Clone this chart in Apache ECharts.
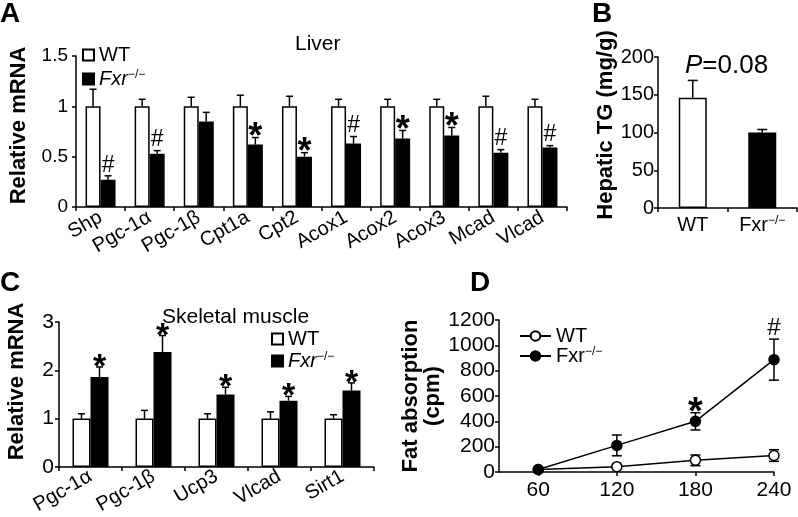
<!DOCTYPE html>
<html><head><meta charset="utf-8">
<script src="https://cdn.jsdelivr.net/npm/echarts@6/dist/echarts.min.js"></script>
<style>html,body{margin:0;padding:0;background:#fff}#c{width:798px;height:517px}</style>
</head><body><div id="c"></div>
<script>
// ---------- data ----------
const liverGenes = ['Shp','Pgc-1α','Pgc-1β','Cpt1a','Cpt2','Acox1','Acox2','Acox3','Mcad','Vlcad'];
const liverWT = [1,1,1,1,1,1,1,1,1,1];
const liverWTErr = [0.17,0.07,0.09,0.11,0.10,0.07,0.07,0.07,0.10,0.07];
const liverFxr = [0.27,0.53,0.85,0.62,0.50,0.63,0.68,0.71,0.54,0.59];
const liverFxrErr = [0.04,0.03,0.09,0.07,0.04,0.07,0.08,0.08,0.03,0.02];
const liverMarks = ['#','#','','*','*','#','*','*','#','#'];

const tgGroups = ['WT','Fxr'];
const tgValues = [146, 100];
const tgErr = [23, 4];

const muscleGenes = ['Pgc-1α','Pgc-1β','Ucp3','Vlcad','Sirt1'];
const muscleWT = [1,1,1,1,1];
const muscleWTErr = [0.10,0.17,0.10,0.14,0.08];
const muscleFxr = [1.86,2.38,1.50,1.37,1.58];
const muscleFxrErr = [0.21,0.34,0.15,0.09,0.16];
const muscleMarks = ['*','*','*','*','*'];

const timeMin = [60,120,180,240];
const fatWT = [20,42,92,130];
const fatWTErr = [8,12,42,46];
const fatFxr = [20,210,400,887];
const fatFxrErr = [8,82,68,162];
const fatMarks = ['','','*','#'];

// ---------- styling helpers ----------
const FONT = 'Liberation Sans, Arial, sans-serif';
const BLACK = '#000';
const axisLine = {show:true, lineStyle:{color:BLACK, width:1.5}};
const axisTick = {show:true, length:4, lineStyle:{color:BLACK, width:1.5}};
const supRich = {
  i:{fontStyle:'italic', fontSize:20, fontFamily:FONT, color:BLACK},
  n:{fontSize:20, fontFamily:FONT, color:BLACK},
  s:{fontSize:12, fontFamily:FONT, color:BLACK, verticalAlign:'top', lineHeight:12}
};
const whiteBar = {color:'#fff', borderColor:BLACK, borderWidth:1.5};
const blackBar = {color:BLACK, borderColor:BLACK, borderWidth:1.5};

function makeErr(offset, capHalf, both, marks, starSize, hashSize) {
  return function (params, api) {
    const x = api.value(0), v = api.value(1), e = api.value(2);
    const c = api.coord([x, v]);
    const t = api.coord([x, v + e]);
    const b = both ? api.coord([x, v - e]) : c;
    const px = c[0] + offset;
    const st = {stroke:BLACK, lineWidth:1.5};
    const ch = [
      {type:'line', shape:{x1:px,y1:b[1],x2:px,y2:t[1]}, style:st},
      {type:'line', shape:{x1:px-capHalf,y1:t[1],x2:px+capHalf,y2:t[1]}, style:st}
    ];
    if (both) ch.push({type:'line', shape:{x1:px-capHalf,y1:b[1],x2:px+capHalf,y2:b[1]}, style:st});
    const m = marks ? marks[params.dataIndex] : '';
    if (m) {
      const star = m === '*';
      ch.push({type:'text', x:px, y:t[1] + (star ? starSize*0.52 : 1),
        style:{text:m, align:'center', verticalAlign:'bottom',
          fontSize: star ? starSize : hashSize, fontWeight: star ? 'bold' : 'normal',
          fontFamily:FONT, fill:BLACK}});
    }
    return {type:'group', children:ch};
  };
}
function errData(xs, vals, errs) { return vals.map((v,i)=>[xs[i], v, errs[i]]); }
const idx = n => Array.from({length:n}, (_,i)=>i);

const chart = echarts.init(document.getElementById('c'), null, {renderer:'canvas'});
const legendFmt = name => name.endsWith('WT') ? 'WT' : (name.startsWith('D') ? '{n|Fxr}{s|−/−}' : '{i|Fxr}{s|−/−}');
const plain = v => String(v);

const option = {
  animation:false,
  textStyle:{fontFamily:FONT, color:BLACK},
  title:[
    {text:'A', left:0, top:0, padding:0, textStyle:{fontSize:28, fontWeight:'bold', color:BLACK, fontFamily:FONT}},
    {text:'B', left:592, top:0, padding:0, textStyle:{fontSize:28, fontWeight:'bold', color:BLACK, fontFamily:FONT}},
    {text:'C', left:0, top:269, padding:0, textStyle:{fontSize:28, fontWeight:'bold', color:BLACK, fontFamily:FONT}},
    {text:'D', left:470, top:269, padding:0, textStyle:{fontSize:28, fontWeight:'bold', color:BLACK, fontFamily:FONT}},
    {text:'Liver', left:295, top:34, padding:0, textStyle:{fontSize:21, fontWeight:'normal', color:BLACK, fontFamily:FONT}},
    {text:'Skeletal muscle', left:162, top:307, padding:0, textStyle:{fontSize:21, fontWeight:'normal', color:BLACK, fontFamily:FONT}},
    {text:'{i|P}=0.08', left:685, top:53, padding:0, textStyle:{fontSize:26, fontWeight:'normal', color:BLACK, fontFamily:FONT,
      rich:{i:{fontStyle:'italic', fontSize:26, fontFamily:FONT, color:BLACK}}}}
  ],
  legend:[
    {data:['A_WT','A_Fxr'], left:77, top:40, orient:'vertical', icon:'rect', itemWidth:11, itemHeight:11, itemGap:4,
     selectedMode:false, formatter:legendFmt, textStyle:{fontSize:20, color:BLACK, fontFamily:FONT, rich:supRich}},
    {data:['C_WT','C_Fxr'], left:266, top:324, orient:'vertical', icon:'rect', itemWidth:11, itemHeight:11, itemGap:2,
     selectedMode:false, formatter:legendFmt, textStyle:{fontSize:20, color:BLACK, fontFamily:FONT, rich:supRich}},
    {data:['D_WT','D_Fxr'], left:514, top:321, orient:'vertical', itemWidth:31, itemHeight:12, itemGap:0,
     selectedMode:false, formatter:legendFmt, textStyle:{fontSize:20, color:BLACK, fontFamily:FONT, rich:supRich}}
  ],
  grid:[
    {left:62, top:56, width:505, height:151},
    {left:658, top:57, width:139, height:151},
    {left:59, top:322, width:315, height:151},
    {left:499, top:320, width:275, height:152}
  ],
  xAxis:[
    {gridIndex:0, type:'category', data:liverGenes, axisLine, axisTick,
     axisLabel:{interval:0, rotate:30, fontSize:20, margin:9, color:BLACK, fontFamily:FONT}},
    {gridIndex:1, type:'category', data:tgGroups, axisLine, axisTick,
     axisLabel:{interval:0, fontSize:20, margin:7, color:BLACK, fontFamily:FONT,
       formatter: v => v === 'WT' ? 'WT' : '{n|Fxr}{s|−/−}', rich:supRich}},
    {gridIndex:2, type:'category', data:muscleGenes, axisLine, axisTick,
     axisLabel:{interval:0, rotate:30, fontSize:20, margin:8, color:BLACK, fontFamily:FONT}},
    {gridIndex:3, type:'value', min:30, max:240, axisLine, splitLine:{show:false},
     axisTick:Object.assign({customValues:timeMin}, axisTick),
     axisLabel:{customValues:timeMin, fontSize:21, margin:8, color:BLACK, fontFamily:FONT, formatter:plain}}
  ],
  yAxis:[
    {gridIndex:0, type:'value', min:0, max:1.5, interval:0.5, axisLine, axisTick, splitLine:{show:false},
     axisLabel:{fontSize:19, margin:8, color:BLACK, fontFamily:FONT, formatter:plain},
     name:'Relative mRNA', nameLocation:'middle', nameGap:46,
     nameTextStyle:{fontSize:22, fontWeight:'bold', color:BLACK, fontFamily:FONT, padding:[0,0,0,12]}},
    {gridIndex:1, type:'value', min:0, max:200, interval:50, axisLine, axisTick, splitLine:{show:false},
     axisLabel:{fontSize:20, margin:4, color:BLACK, fontFamily:FONT, formatter:plain},
     name:'Hepatic TG (mg/g)', nameLocation:'middle', nameGap:36,
     nameTextStyle:{fontSize:22, fontWeight:'bold', color:BLACK, fontFamily:FONT, padding:[0,0,0,15]}},
    {gridIndex:2, type:'value', min:0, max:3, interval:1, axisLine, axisTick, splitLine:{show:false},
     axisLabel:{fontSize:21, margin:5, color:BLACK, fontFamily:FONT, formatter:plain},
     name:'Relative mRNA', nameLocation:'middle', nameGap:31,
     nameTextStyle:{fontSize:22, fontWeight:'bold', color:BLACK, fontFamily:FONT, padding:[0,0,0,26]}},
    {gridIndex:3, type:'value', min:0, max:1200, interval:200, axisLine, axisTick, splitLine:{show:false},
     axisLabel:{fontSize:21, margin:4, color:BLACK, fontFamily:FONT, formatter:plain},
     name:'Fat absorption\n(cpm)', nameLocation:'middle', nameGap:44,
     nameTextStyle:{fontSize:22, fontWeight:'bold', color:BLACK, fontFamily:FONT, lineHeight:22}}
  ],
  series:[
    // Panel A
    {name:'A_WT', type:'bar', xAxisIndex:0, yAxisIndex:0, data:liverWT, barWidth:15, barGap:'0%', itemStyle:whiteBar},
    {name:'A_Fxr', type:'bar', xAxisIndex:0, yAxisIndex:0, data:liverFxr, barWidth:15, barGap:'0%', itemStyle:blackBar},
    {type:'custom', xAxisIndex:0, yAxisIndex:0, z:5, data:errData(idx(10), liverWT, liverWTErr), renderItem:makeErr(-7.5, 3.5, false, null)},
    {type:'custom', xAxisIndex:0, yAxisIndex:0, z:5, data:errData(idx(10), liverFxr, liverFxrErr), renderItem:makeErr(7.5, 3.5, false, liverMarks, 36, 23)},
    // Panel B
    {name:'B_TG', type:'bar', xAxisIndex:1, yAxisIndex:1, barWidth:28,
     data:tgValues.map((v,i)=>({value:v, itemStyle: i===0 ? whiteBar : blackBar}))},
    {type:'custom', xAxisIndex:1, yAxisIndex:1, z:5, data:errData(idx(2), tgValues, tgErr), renderItem:makeErr(0, 5, false, null)},
    // Panel C
    {name:'C_WT', type:'bar', xAxisIndex:2, yAxisIndex:2, data:muscleWT, barWidth:18, barGap:'0%', itemStyle:whiteBar},
    {name:'C_Fxr', type:'bar', xAxisIndex:2, yAxisIndex:2, data:muscleFxr, barWidth:18, barGap:'0%', itemStyle:blackBar},
    {type:'custom', xAxisIndex:2, yAxisIndex:2, z:5, data:errData(idx(5), muscleWT, muscleWTErr), renderItem:makeErr(-9, 3.5, false, null)},
    {type:'custom', xAxisIndex:2, yAxisIndex:2, z:5, data:errData(idx(5), muscleFxr, muscleFxrErr), renderItem:makeErr(9, 3.5, false, muscleMarks, 34, 23)},
    // Panel D
    {type:'custom', xAxisIndex:3, yAxisIndex:3, z:1, data:errData(timeMin, fatWT, fatWTErr), renderItem:makeErr(0, 5, true, null)},
    {type:'custom', xAxisIndex:3, yAxisIndex:3, z:1, data:errData(timeMin, fatFxr, fatFxrErr), renderItem:makeErr(0, 5, true, fatMarks, 38, 24)},
    {name:'D_WT', type:'line', xAxisIndex:3, yAxisIndex:3, z:3, data:timeMin.map((t,i)=>[t, fatWT[i]]),
     symbol:'circle', symbolSize:10, lineStyle:{color:BLACK, width:1.5},
     itemStyle:{color:'#fff', borderColor:BLACK, borderWidth:1.5}},
    {name:'D_Fxr', type:'line', xAxisIndex:3, yAxisIndex:3, z:3, data:timeMin.map((t,i)=>[t, fatFxr[i]]),
     symbol:'circle', symbolSize:10, lineStyle:{color:BLACK, width:1.5},
     itemStyle:{color:BLACK, borderColor:BLACK, borderWidth:1.5}}
  ]
};
chart.setOption(option);
</script>
</body></html>
